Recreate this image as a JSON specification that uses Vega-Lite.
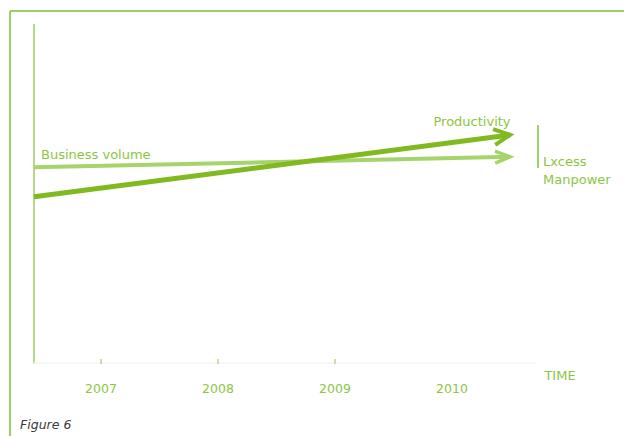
{
  "$schema": "https://vega.github.io/schema/vega-lite/v6.json",
  "width": 614,
  "height": 348,
  "autosize": {"type": "none"},
  "padding": {"left": 10, "top": 11, "right": 0, "bottom": 77},
  "background": "white",
  "config": {"view": {"stroke": null}},
  "datasets": {
    "lines": [
      {"series": "Business volume", "year": 2006.427, "level": 55.1},
      {"series": "Business volume", "year": 2010.496, "level": 58.1},
      {"series": "Productivity", "year": 2006.427, "level": 46.6},
      {"series": "Productivity", "year": 2010.496, "level": 64.4}
    ],
    "years": [
      {"year": 2007, "label": "2007", "ticked": true},
      {"year": 2008, "label": "2008", "ticked": true},
      {"year": 2009, "label": "2009", "ticked": true},
      {"year": 2010, "label": "2010", "ticked": false}
    ],
    "leftLabels": [
      {"text": "Business volume", "year": 2006.487, "level": 58.6},
      {"text": "Lxcess", "year": 2010.778, "level": 56.6},
      {"text": "Manpower", "year": 2010.778, "level": 51.4}
    ],
    "centerLabels": [
      {"text": "Productivity", "year": 2010.171, "level": 68.0},
      {"text": "TIME", "year": 2010.923, "level": -4.9}
    ],
    "caption": [
      {"text": "Figure 6", "year": 2006.308, "level": -19.0}
    ]
  },
  "data": {"name": "lines"},
  "layer": [
    {
      "mark": {"type": "rule", "color": "#9fcf63", "strokeWidth": 2},
      "encoding": {
        "y": {"datum": 100, "scale": {"domain": [0, 100], "nice": false, "zero": false}, "axis": null}
      }
    },
    {
      "mark": {"type": "rule", "color": "#9fcf63", "strokeWidth": 2},
      "encoding": {
        "x": {"datum": 2006.222, "scale": {"domain": [2006.222, 2011.47], "nice": false, "zero": false}, "axis": null},
        "y": {"datum": 100, "axis": null},
        "y2": {"datum": -22.2}
      }
    },
    {
      "mark": {"type": "rule", "color": "#b5da88", "strokeWidth": 1.5},
      "encoding": {
        "x": {"datum": 2006.427, "axis": null},
        "y": {"datum": 96.3, "axis": null},
        "y2": {"datum": -1.2}
      }
    },
    {
      "mark": {"type": "rule", "color": "#f6f6f6", "strokeWidth": 1},
      "encoding": {
        "x": {"datum": 2006.427, "axis": null},
        "x2": {"datum": 2010.72},
        "y": {"datum": -1.2, "axis": null}
      }
    },
    {
      "mark": {"type": "rule", "color": "#9fcf63", "strokeWidth": 1.2},
      "encoding": {
        "x": {"datum": 2010.735, "axis": null},
        "y": {"datum": 67.2, "axis": null},
        "y2": {"datum": 54.9}
      }
    },
    {
      "data": {"name": "years"},
      "transform": [{"filter": "datum.ticked"}],
      "mark": {"type": "rule", "color": "#b5da88", "strokeWidth": 1.5},
      "encoding": {
        "x": {"field": "year", "type": "quantitative", "axis": null},
        "y": {"datum": 0, "axis": null},
        "y2": {"datum": -1.45}
      }
    },
    {
      "data": {"name": "years"},
      "mark": {"type": "text", "font": "DejaVu Sans", "fontSize": 12.5, "color": "#8cc63f", "baseline": "middle", "align": "center"},
      "encoding": {
        "x": {"field": "year", "type": "quantitative", "axis": null},
        "y": {"datum": -8.6, "axis": null},
        "text": {"field": "label"}
      }
    },
    {
      "mark": {"type": "line", "strokeCap": "butt"},
      "encoding": {
        "x": {"field": "year", "type": "quantitative", "axis": null},
        "y": {"field": "level", "type": "quantitative", "axis": null},
        "color": {"field": "series", "type": "nominal", "scale": {"domain": ["Business volume", "Productivity"], "range": ["#a6d46c", "#80b920"]}, "legend": null},
        "strokeWidth": {"field": "series", "type": "nominal", "scale": {"domain": ["Business volume", "Productivity"], "range": [4, 5]}, "legend": null}
      }
    },
    {
      "transform": [{"filter": "datum.year > 2010 && datum.series == 'Productivity'"}],
      "mark": {"type": "point", "shape": "M -1 -0.5 L 0 0 L -1 0.5", "filled": false, "size": 1024, "strokeWidth": 4, "strokeJoin": "miter", "strokeCap": "butt", "color": "#80b920", "opacity": 1, "angle": 352.6},
      "encoding": {
        "x": {"field": "year", "type": "quantitative", "axis": null},
        "y": {"field": "level", "type": "quantitative", "axis": null}
      }
    },
    {
      "transform": [{"filter": "datum.year > 2010 && datum.series == 'Business volume'"}],
      "mark": {"type": "point", "shape": "M -1 -0.4 L 0 0 L -1 0.4", "filled": false, "size": 900, "strokeWidth": 3.5, "strokeJoin": "miter", "strokeCap": "butt", "color": "#a6d46c", "opacity": 1, "angle": 358.8},
      "encoding": {
        "x": {"field": "year", "type": "quantitative", "axis": null},
        "y": {"field": "level", "type": "quantitative", "axis": null}
      }
    },
    {
      "data": {"name": "leftLabels"},
      "mark": {"type": "text", "font": "DejaVu Sans", "fontSize": 13, "color": "#8cc63f", "baseline": "middle", "align": "left"},
      "encoding": {
        "x": {"field": "year", "type": "quantitative", "axis": null},
        "y": {"field": "level", "type": "quantitative", "axis": null},
        "text": {"field": "text"}
      }
    },
    {
      "data": {"name": "centerLabels"},
      "mark": {"type": "text", "font": "DejaVu Sans", "fontSize": 13, "color": "#8cc63f", "baseline": "middle", "align": "center"},
      "encoding": {
        "x": {"field": "year", "type": "quantitative", "axis": null},
        "y": {"field": "level", "type": "quantitative", "axis": null},
        "text": {"field": "text"}
      }
    },
    {
      "data": {"name": "caption"},
      "mark": {"type": "text", "font": "DejaVu Sans", "fontSize": 12.5, "fontStyle": "italic", "color": "#3a3a3a", "baseline": "middle", "align": "left"},
      "encoding": {
        "x": {"field": "year", "type": "quantitative", "axis": null},
        "y": {"field": "level", "type": "quantitative", "axis": null},
        "text": {"field": "text"}
      }
    }
  ]
}
